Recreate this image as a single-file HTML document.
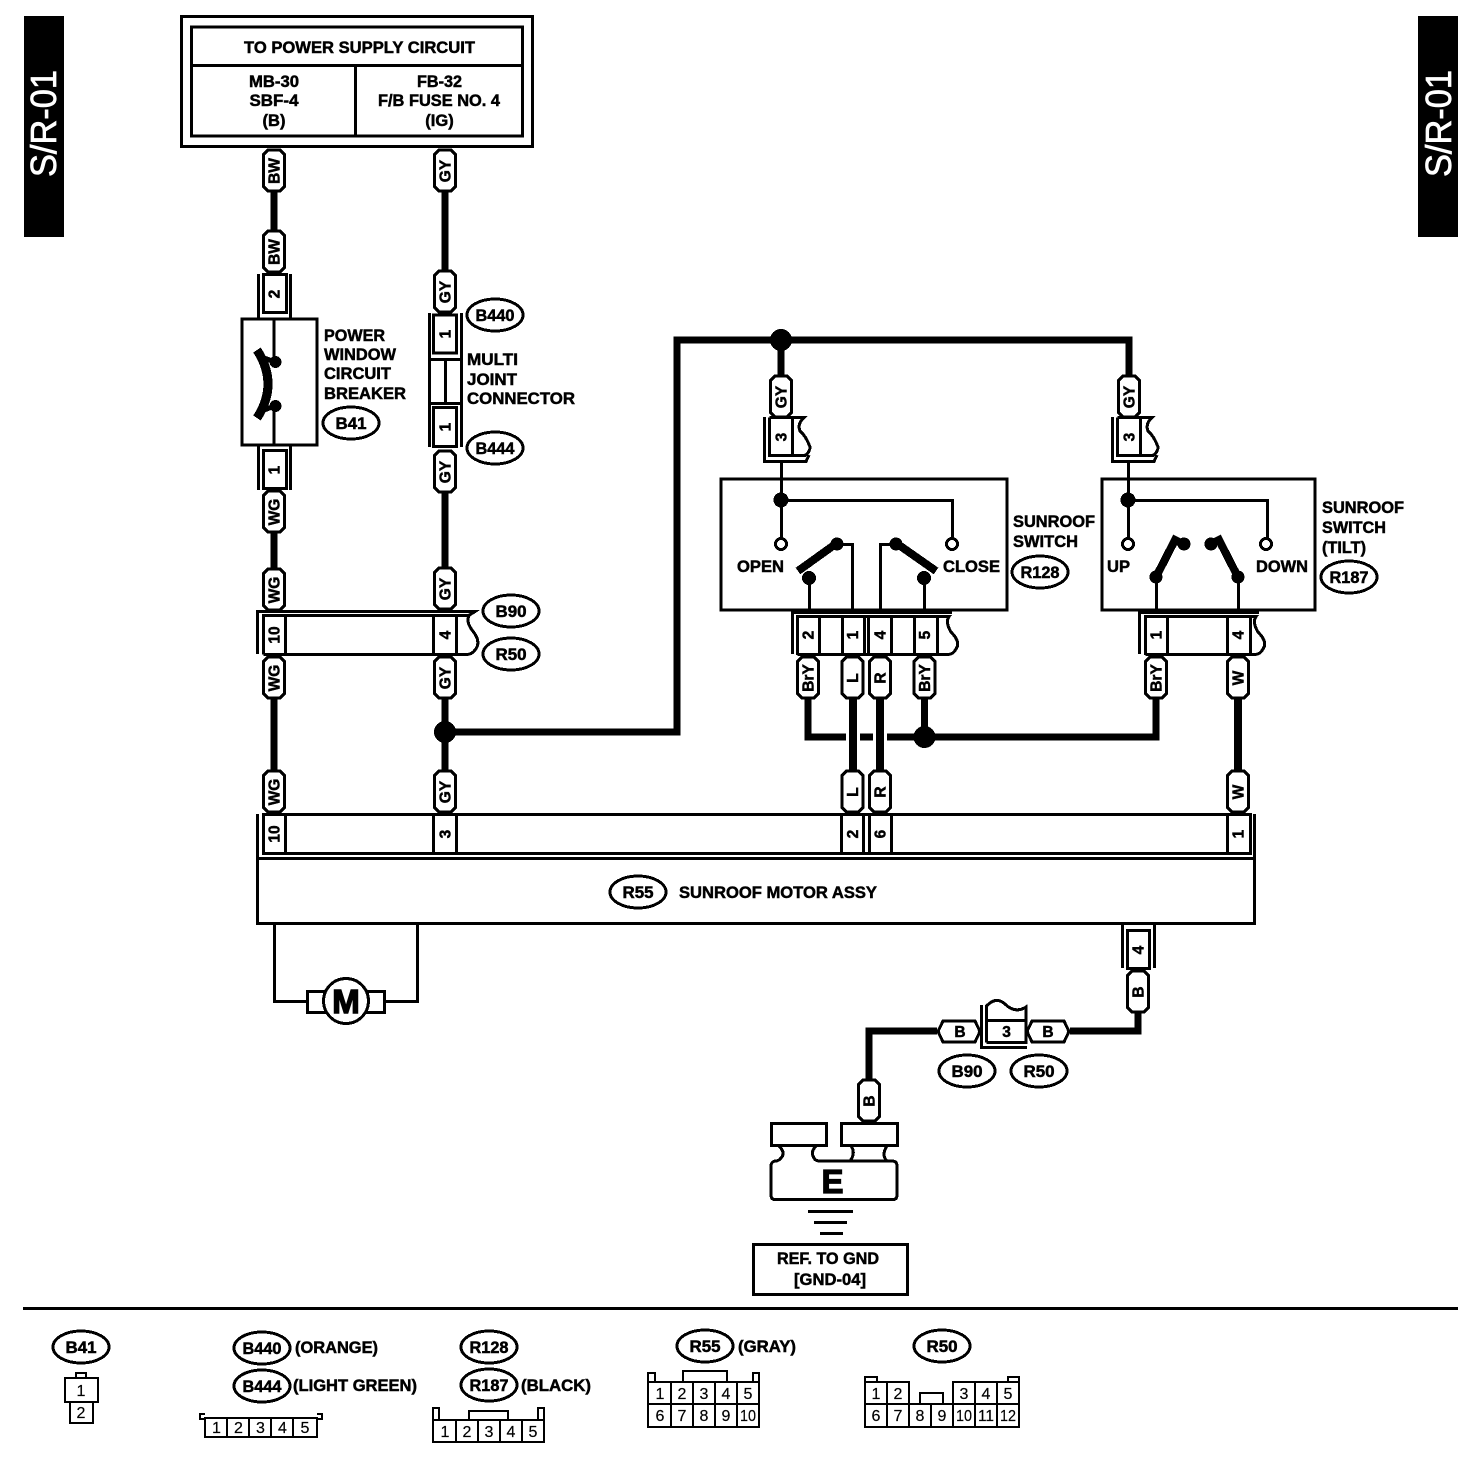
<!DOCTYPE html>
<html><head><meta charset="utf-8"><style>
html,body{margin:0;padding:0;background:#fff}
svg{display:block}
text{font-family:"Liberation Sans",sans-serif;font-weight:bold;fill:#000;stroke:#000;stroke-width:.5}
.m{text-anchor:middle;font-size:16.5px}
.l{font-size:16.5px}
.n{text-anchor:middle;font-size:16px;font-weight:normal;stroke-width:.2}
.t{text-anchor:middle;font-size:15.5px}
.w{fill:none;stroke:#000;stroke-width:7}
.b{fill:none;stroke:#000;stroke-width:3}
.g{fill:none;stroke:#000;stroke-width:2}
.bw{fill:#fff;stroke:#000;stroke-width:3}
.o{fill:#fff;stroke:#000;stroke-width:3}
.s{font-weight:normal;font-size:36px;fill:#fff;stroke:#fff;stroke-width:.7}
</style></head><body>
<svg xmlns="http://www.w3.org/2000/svg" width="1472" height="1458" viewBox="0 0 1472 1458" shape-rendering="crispEdges">
<defs>
<path id="p" d="M-6 1H6L10.500 5.500V37.500L6 42H-6L-10.500 37.500V5.500Z" fill="#fff" stroke="#000" stroke-width="3"/>
<path id="h" d="M6 1H38L43 11.500L38 22H6L1 11.500Z" fill="#fff" stroke="#000" stroke-width="3"/>
</defs>
<rect width="1472" height="1458" fill="#fff"/>

<!-- side tabs -->
<rect x="24" y="16" width="40" height="221" fill="#000"/>
<rect x="1418" y="16" width="40" height="221" fill="#000"/>
<text class="s" transform="translate(56,177) rotate(-90)" textLength="107" lengthAdjust="spacingAndGlyphs">S/R-01</text>
<text class="s" transform="translate(1451,177) rotate(-90)" textLength="107" lengthAdjust="spacingAndGlyphs">S/R-01</text>

<!-- wires -->
<path class="w" d="M274 192V230M445 192V271M274 533V568M445 493V567M274 698V770M445 698V770M445 732H677V340H1129V375M781 340V375"/>
<path class="w" d="M808 698V737H846M860 737H873M887 737H1156V698M924.500 698V737"/>
<path class="w" d="M853 698V771M880 698V771M1238 698V771" style="stroke-width:8"/>
<path class="w" d="M1138 1012V1031H1070M937 1031H869V1079"/>
<circle cx="445" cy="732" r="11"/><circle cx="781" cy="340" r="11"/><circle cx="924.500" cy="737" r="11"/>

<!-- power supply box -->
<rect class="b" x="181.500" y="16.500" width="351" height="130"/>
<rect class="b" x="191.500" y="27" width="331" height="109"/>
<path class="b" d="M191 65.500H523M355.500 65V136"/>
<text class="m" x="359.500" y="53" textLength="231" lengthAdjust="spacingAndGlyphs">TO POWER SUPPLY CIRCUIT</text>
<text class="m" x="274" y="87" textLength="50" lengthAdjust="spacingAndGlyphs">MB-30</text>
<text class="m" x="274" y="106" textLength="49" lengthAdjust="spacingAndGlyphs">SBF-4</text>
<text class="m" x="274" y="126">(B)</text>
<text class="m" x="439.500" y="87" textLength="45" lengthAdjust="spacingAndGlyphs">FB-32</text>
<text class="m" x="439" y="106" textLength="122" lengthAdjust="spacingAndGlyphs">F/B FUSE NO. 4</text>
<text class="m" x="439.500" y="126">(IG)</text>

<!-- pills: upper left -->
<use href="#p" x="274" y="149"/><use href="#p" x="445" y="149"/>
<use href="#p" x="274" y="230"/><use href="#p" x="445" y="270"/>
<use href="#p" x="274" y="490"/><use href="#p" x="445" y="450"/>
<use href="#p" x="274" y="568"/><use href="#p" x="445" y="567"/>
<use href="#p" x="274" y="656"/><use href="#p" x="445" y="656"/>
<use href="#p" x="274" y="770"/><use href="#p" x="445" y="770"/>
<text class="t" transform="translate(279.500,171) rotate(-90)">BW</text>
<text class="t" transform="translate(450.500,171) rotate(-90)">GY</text>
<text class="t" transform="translate(279.500,252) rotate(-90)">BW</text>
<text class="t" transform="translate(450.500,292) rotate(-90)">GY</text>
<text class="t" transform="translate(279.500,512) rotate(-90)">WG</text>
<text class="t" transform="translate(450.500,472) rotate(-90)">GY</text>
<text class="t" transform="translate(279.500,590) rotate(-90)">WG</text>
<text class="t" transform="translate(450.500,589) rotate(-90)">GY</text>
<text class="t" transform="translate(279.500,678) rotate(-90)">WG</text>
<text class="t" transform="translate(450.500,678) rotate(-90)">GY</text>
<text class="t" transform="translate(279.500,792) rotate(-90)">WG</text>
<text class="t" transform="translate(450.500,792) rotate(-90)">GY</text>

<!-- circuit breaker -->
<path class="b" d="M258.500 274V318M290.500 274V318M258.500 446V490M290.500 446V490"/>
<rect class="bw" x="263.500" y="274.500" width="23" height="38"/>
<rect class="bw" x="263.500" y="450.500" width="23" height="38"/>
<text class="t" transform="translate(279.500,294) rotate(-90)">2</text>
<text class="t" transform="translate(279.500,470) rotate(-90)">1</text>
<rect class="bw" x="242" y="319" width="75" height="126"/>
<path class="b" d="M274 319V362M274 406V446"/>
<path d="M257 350Q279 384 257 418" fill="none" stroke="#000" stroke-width="9"/>
<circle cx="275.500" cy="362" r="6"/><circle cx="275.500" cy="406" r="6"/>
<path d="M264 358L275 362M264 410L275 406" stroke="#000" stroke-width="5"/>
<text class="l" x="324" y="341" textLength="61" lengthAdjust="spacingAndGlyphs">POWER</text>
<text class="l" x="324" y="360" textLength="72" lengthAdjust="spacingAndGlyphs">WINDOW</text>
<text class="l" x="324" y="379" textLength="67" lengthAdjust="spacingAndGlyphs">CIRCUIT</text>
<text class="l" x="324" y="399" textLength="82" lengthAdjust="spacingAndGlyphs">BREAKER</text>
<ellipse class="o" cx="351" cy="423" rx="28" ry="16"/><text class="m" x="351" y="429" textLength="31" lengthAdjust="spacingAndGlyphs">B41</text>

<!-- multi joint -->
<path class="b" d="M429.500 313V447M461.500 313V447M428 359.500H463M428 403.500H463M445.500 360V403"/>
<rect class="bw" x="433.500" y="315" width="23" height="38"/>
<rect class="bw" x="433.500" y="407.500" width="23" height="39"/>
<text class="t" transform="translate(450.500,334) rotate(-90)">1</text>
<text class="t" transform="translate(450.500,427) rotate(-90)">1</text>
<ellipse class="o" cx="495" cy="315" rx="28" ry="16"/><text class="m" x="495" y="321" textLength="39" lengthAdjust="spacingAndGlyphs">B440</text>
<ellipse class="o" cx="495" cy="448" rx="28" ry="16"/><text class="m" x="495" y="454" textLength="39" lengthAdjust="spacingAndGlyphs">B444</text>
<text class="l" x="467" y="365" textLength="51" lengthAdjust="spacingAndGlyphs">MULTI</text>
<text class="l" x="467" y="385" textLength="50" lengthAdjust="spacingAndGlyphs">JOINT</text>
<text class="l" x="467" y="404" textLength="108" lengthAdjust="spacingAndGlyphs">CONNECTOR</text>

<!-- B90/R50 row -->
<path class="b" d="M257.500 654V611.500H475L468 616"/>
<path class="b" d="M263.500 654.500V615.500H469Q466 622 472 630Q482 642 475 650Q472 654.500 466 654.500H263.500"/>
<path class="b" d="M285.500 615V654M433.500 615V654M456.500 615V654"/>
<text class="t" transform="translate(279.500,635) rotate(-90)">10</text>
<text class="t" transform="translate(450.500,635) rotate(-90)">4</text>
<ellipse class="o" cx="511" cy="611" rx="28" ry="16"/><text class="m" x="511" y="617" textLength="31" lengthAdjust="spacingAndGlyphs">B90</text>
<ellipse class="o" cx="511" cy="654" rx="28" ry="16"/><text class="m" x="511" y="660" textLength="31" lengthAdjust="spacingAndGlyphs">R50</text>

<!-- top 3-connectors -->
<use href="#p" x="781" y="375"/><use href="#p" x="1129" y="375"/>
<text class="t" transform="translate(786.500,397) rotate(-90)">GY</text>
<text class="t" transform="translate(1134.500,397) rotate(-90)">GY</text>
<path class="b" d="M764.500 417V461.500H806L809 455"/>
<path class="b" d="M769.500 417.500V455.500H805Q810 452 810 447Q806 436 800 431Q797 424 804 417.500H769.500M792.500 417V455"/>
<text class="t" transform="translate(786.500,437) rotate(-90)">3</text>
<path class="b" d="M1112.500 417V461.500H1154L1157 455"/>
<path class="b" d="M1117.500 417.500V455.500H1153Q1158 452 1158 447Q1154 436 1148 431Q1145 424 1152 417.500H1117.500M1140.500 417V455"/>
<text class="t" transform="translate(1134.500,437) rotate(-90)">3</text>

<!-- switch 1 -->
<rect class="b" x="721" y="479" width="286" height="131"/>
<path class="b" d="M781.500 461V538M781 500.500H952.500V538M809.500 578V610M838 544.500H852.500V610M880.500 610V544.500H896M924.500 578V610"/>
<circle cx="781" cy="500" r="7.500"/>
<circle class="o" cx="781" cy="544" r="5.500"/><circle class="o" cx="952" cy="544" r="5.500"/>
<path d="M798 571L837 543M896 543L936 571" stroke="#000" stroke-width="8" fill="none"/>
<circle cx="837" cy="544" r="6.500"/><circle cx="896" cy="544" r="6.500"/>
<circle cx="809" cy="578" r="7"/><circle cx="924" cy="578" r="7"/>
<text class="l" x="737" y="572" textLength="47" lengthAdjust="spacingAndGlyphs">OPEN</text>
<text class="l" x="943" y="572" textLength="57" lengthAdjust="spacingAndGlyphs">CLOSE</text>
<text class="l" x="1013" y="527" textLength="82" lengthAdjust="spacingAndGlyphs">SUNROOF</text>
<text class="l" x="1013" y="547" textLength="65" lengthAdjust="spacingAndGlyphs">SWITCH</text>
<ellipse class="o" cx="1040" cy="572" rx="28" ry="16"/><text class="m" x="1040" y="578" textLength="39" lengthAdjust="spacingAndGlyphs">R128</text>

<path class="b" d="M792.500 610V654M792 612.500H952"/>
<path class="b" d="M797.500 655V616.500H949Q945 622 951 632Q961 642 956 649Q953 654.500 948 654.500H797.500"/>
<path class="b" d="M819.500 616V654M842.500 616V654M864.500 616V654M868.500 616V654M891.500 616V654M914.500 616V654M937.500 616V654"/>
<text class="t" transform="translate(813.500,635) rotate(-90)">2</text>
<text class="t" transform="translate(858,635) rotate(-90)">1</text>
<text class="t" transform="translate(885.500,635) rotate(-90)">4</text>
<text class="t" transform="translate(930,635) rotate(-90)">5</text>
<use href="#p" x="808" y="656"/><use href="#p" x="852.500" y="656"/><use href="#p" x="880" y="656"/><use href="#p" x="924.500" y="656"/>
<text class="t" transform="translate(813.500,678) rotate(-90)">BrY</text>
<text class="t" transform="translate(858,678) rotate(-90)">L</text>
<text class="t" transform="translate(885.500,678) rotate(-90)">R</text>
<text class="t" transform="translate(930,678) rotate(-90)">BrY</text>

<!-- switch 2 -->
<rect class="b" x="1102" y="479" width="213" height="131"/>
<path class="b" d="M1128.500 461V538M1128 500.500H1267.500V538M1156.500 578V610M1238.500 578V610"/>
<circle cx="1128" cy="500" r="7.500"/>
<circle class="o" cx="1128" cy="544" r="5.500"/><circle class="o" cx="1266" cy="544" r="5.500"/>
<path d="M1156 577L1175 540L1183 544M1238 577L1219 540L1211 544" stroke="#000" stroke-width="8" fill="none"/>
<circle cx="1184" cy="544" r="6.500"/><circle cx="1211" cy="544" r="6.500"/>
<circle cx="1156" cy="577" r="6.500"/><circle cx="1238" cy="577" r="6.500"/>
<text class="l" x="1107" y="572" textLength="23" lengthAdjust="spacingAndGlyphs">UP</text>
<text class="l" x="1256" y="572" textLength="52" lengthAdjust="spacingAndGlyphs">DOWN</text>
<text class="l" x="1322" y="513" textLength="82" lengthAdjust="spacingAndGlyphs">SUNROOF</text>
<text class="l" x="1322" y="533" textLength="64" lengthAdjust="spacingAndGlyphs">SWITCH</text>
<text class="l" x="1322" y="553" textLength="44" lengthAdjust="spacingAndGlyphs">(TILT)</text>
<ellipse class="o" cx="1349" cy="577" rx="28" ry="16"/><text class="m" x="1349" y="583" textLength="39" lengthAdjust="spacingAndGlyphs">R187</text>

<path class="b" d="M1139.500 610V654M1139 612.500H1259"/>
<path class="b" d="M1145.500 655V616.500H1256Q1252 622 1258 632Q1268 642 1263 649Q1260 654.500 1255 654.500H1145.500"/>
<path class="b" d="M1167.500 616V654M1227.500 616V654M1250.500 616V654"/>
<text class="t" transform="translate(1161.500,635) rotate(-90)">1</text>
<text class="t" transform="translate(1243.500,635) rotate(-90)">4</text>
<use href="#p" x="1156" y="656"/><use href="#p" x="1238" y="656"/>
<text class="t" transform="translate(1161.500,678) rotate(-90)">BrY</text>
<text class="t" transform="translate(1243.500,678) rotate(-90)">W</text>

<!-- R55 row -->
<use href="#p" x="852.500" y="770"/><use href="#p" x="880" y="770"/><use href="#p" x="1238" y="770"/>
<text class="t" transform="translate(858,792) rotate(-90)">L</text>
<text class="t" transform="translate(885.500,792) rotate(-90)">R</text>
<text class="t" transform="translate(1243.500,792) rotate(-90)">W</text>
<path class="b" d="M263.500 814.500H1250.500V853.500H263.500ZM285.500 814V853M433.500 814V853M456.500 814V853M841.500 814V853M863.500 814V853M869.500 814V853M891.500 814V853M1227.500 814V853"/>
<path class="b" d="M257.500 814V924M1254.500 814V924"/>
<rect class="b" x="257.500" y="858.500" width="997" height="65"/>
<text class="t" transform="translate(279.500,834) rotate(-90)">10</text>
<text class="t" transform="translate(450.500,834) rotate(-90)">3</text>
<text class="t" transform="translate(858,834) rotate(-90)">2</text>
<text class="t" transform="translate(885.500,834) rotate(-90)">6</text>
<text class="t" transform="translate(1243.500,834) rotate(-90)">1</text>
<ellipse class="o" cx="638" cy="892" rx="28" ry="16"/><text class="m" x="638" y="898" textLength="31" lengthAdjust="spacingAndGlyphs">R55</text>
<text class="l" x="679" y="898" textLength="198" lengthAdjust="spacingAndGlyphs">SUNROOF MOTOR ASSY</text>

<!-- motor -->
<path class="b" d="M274.500 924V1001.500H308M384 1001.500H417.500V924"/>
<rect class="bw" x="307.500" y="991.500" width="77" height="21"/>
<circle class="o" cx="346" cy="1001" r="22.500"/>
<text x="346" y="1013" style="text-anchor:middle;font-size:33px;stroke-width:1.4">M</text>

<!-- bottom connector -->
<path class="b" d="M1122.500 924V968M1154.500 924V968"/>
<rect class="bw" x="1127.500" y="930.500" width="22" height="38"/>
<text class="t" transform="translate(1143.500,950) rotate(-90)">4</text>
<use href="#p" x="1138" y="970"/>
<text class="t" transform="translate(1143.500,992) rotate(-90)">B</text>
<use href="#h" x="1026" y="1020"/><use href="#h" x="937" y="1020"/>
<text class="t" x="1048" y="1037">B</text><text class="t" x="960" y="1037">B</text>
<path class="b" d="M981.500 1005V1047.500H1027"/>
<path class="b" d="M986.500 1042.500V1006Q996 996 1005 1004Q1015 1014 1026 1007V1042.500H986.500M986 1020.500H1026"/>
<text class="t" x="1006.500" y="1037">3</text>
<ellipse class="o" cx="967" cy="1071" rx="28" ry="16"/><text class="m" x="967" y="1077" textLength="31" lengthAdjust="spacingAndGlyphs">B90</text>
<ellipse class="o" cx="1039" cy="1071" rx="28" ry="16"/><text class="m" x="1039" y="1077" textLength="31" lengthAdjust="spacingAndGlyphs">R50</text>

<!-- ground -->
<use href="#p" x="869" y="1079"/>
<text class="t" transform="translate(874.500,1101) rotate(-90)">B</text>
<rect class="bw" x="771.500" y="1123.500" width="55" height="22"/>
<rect class="bw" x="841.500" y="1123.500" width="56" height="22"/>
<path class="b" d="M779 1146Q786 1153 781 1158Q779 1161 775 1161Q771 1162 771 1166V1195Q771 1199.500 775 1199.500H893Q897 1199.500 897 1195V1166Q897 1161 892 1161H887Q881 1155 887 1146M851 1146Q856 1153 850 1161M816 1146Q810 1152 814 1158Q815 1161 820 1161H887"/>
<text x="832.500" y="1193" style="text-anchor:middle;font-size:33px;stroke-width:1.2">E</text>
<path class="b" d="M808 1211.500H853M814 1222.500H847M820 1233.500H843"/>
<rect class="b" x="753.500" y="1244.500" width="154" height="50"/>
<text class="m" x="828" y="1264" textLength="102" lengthAdjust="spacingAndGlyphs">REF. TO GND</text>
<text class="m" x="830" y="1285" textLength="72" lengthAdjust="spacingAndGlyphs">[GND-04]</text>

<!-- divider -->
<path class="b" d="M23 1308.500H1458"/>

<!-- legend -->
<ellipse class="o" cx="81" cy="1347" rx="28" ry="16"/><text class="m" x="81" y="1353" textLength="31" lengthAdjust="spacingAndGlyphs">B41</text>
<rect class="g" x="76" y="1373" width="10" height="5"/>
<rect class="g" x="65" y="1378" width="33" height="24" fill="#fff"/>
<rect class="g" x="70" y="1402" width="23" height="21" fill="#fff"/>
<text class="n" x="81" y="1396">1</text><text class="n" x="81" y="1418">2</text>

<ellipse class="o" cx="262" cy="1348" rx="28" ry="16"/><text class="m" x="262" y="1354" textLength="39" lengthAdjust="spacingAndGlyphs">B440</text>
<ellipse class="o" cx="262" cy="1386" rx="28" ry="16"/><text class="m" x="262" y="1392" textLength="39" lengthAdjust="spacingAndGlyphs">B444</text>
<text class="l" x="295" y="1353" textLength="83" lengthAdjust="spacingAndGlyphs">(ORANGE)</text>
<text class="l" x="293" y="1391" textLength="124" lengthAdjust="spacingAndGlyphs">(LIGHT GREEN)</text>
<path class="g" d="M205 1437V1418H317V1437ZM227 1418V1437M249 1418V1437M271 1418V1437M293 1418V1437M205 1419H200V1414H205M317 1419H322V1414H317"/>
<text class="n" x="216.500" y="1433">1</text><text class="n" x="238.500" y="1433">2</text><text class="n" x="260.500" y="1433">3</text><text class="n" x="282.500" y="1433">4</text><text class="n" x="305" y="1433">5</text>

<ellipse class="o" cx="489" cy="1347" rx="28" ry="16"/><text class="m" x="489" y="1353" textLength="39" lengthAdjust="spacingAndGlyphs">R128</text>
<ellipse class="o" cx="489" cy="1385" rx="28" ry="16"/><text class="m" x="489" y="1391" textLength="39" lengthAdjust="spacingAndGlyphs">R187</text>
<text class="l" x="521" y="1391" textLength="70" lengthAdjust="spacingAndGlyphs">(BLACK)</text>
<path class="g" d="M433 1442V1420H544V1442ZM456 1420V1442M478 1420V1442M500 1420V1442M522 1420V1442M433 1420V1408H439V1420M538 1420V1408H544V1420M469 1420V1411H508V1420"/>
<text class="n" x="445" y="1437">1</text><text class="n" x="467" y="1437">2</text><text class="n" x="489" y="1437">3</text><text class="n" x="511" y="1437">4</text><text class="n" x="533" y="1437">5</text>

<ellipse class="o" cx="705" cy="1346" rx="28" ry="16"/><text class="m" x="705" y="1352" textLength="31" lengthAdjust="spacingAndGlyphs">R55</text>
<text class="l" x="738" y="1352" textLength="58" lengthAdjust="spacingAndGlyphs">(GRAY)</text>
<path class="g" d="M648 1427V1382H759V1427ZM648 1404H759M671 1382V1427M693 1382V1427M715 1382V1427M737 1382V1427M648 1382V1373H655V1382M753 1382V1373H759V1382M683 1382V1371H727V1382"/>
<text class="n" x="660" y="1399">1</text><text class="n" x="682" y="1399">2</text><text class="n" x="704" y="1399">3</text><text class="n" x="726" y="1399">4</text><text class="n" x="748" y="1399">5</text>
<text class="n" x="660" y="1421">6</text><text class="n" x="682" y="1421">7</text><text class="n" x="704" y="1421">8</text><text class="n" x="726" y="1421">9</text><text class="n" x="748" y="1421" textLength="16" lengthAdjust="spacingAndGlyphs">10</text>

<ellipse class="o" cx="942" cy="1346" rx="28" ry="16"/><text class="m" x="942" y="1352" textLength="31" lengthAdjust="spacingAndGlyphs">R50</text>
<path class="g" d="M865 1427V1382H909V1404H953V1382H1019V1427ZM865 1404H909M953 1404H1019M887 1382V1427M909 1404V1427M931 1404V1427M953 1404V1427M975 1382V1427M997 1382V1427M865 1382V1377H877V1382M1008 1382V1377H1019V1382M920 1404V1393H943V1404"/>
<text class="n" x="876" y="1399">1</text><text class="n" x="898" y="1399">2</text><text class="n" x="964" y="1399">3</text><text class="n" x="986" y="1399">4</text><text class="n" x="1008" y="1399">5</text>
<text class="n" x="876" y="1421">6</text><text class="n" x="898" y="1421">7</text><text class="n" x="920" y="1421">8</text><text class="n" x="942" y="1421">9</text><text class="n" x="964" y="1421" textLength="16" lengthAdjust="spacingAndGlyphs">10</text><text class="n" x="986" y="1421" textLength="16" lengthAdjust="spacingAndGlyphs">11</text><text class="n" x="1008" y="1421" textLength="16" lengthAdjust="spacingAndGlyphs">12</text>
</svg>
</body></html>
